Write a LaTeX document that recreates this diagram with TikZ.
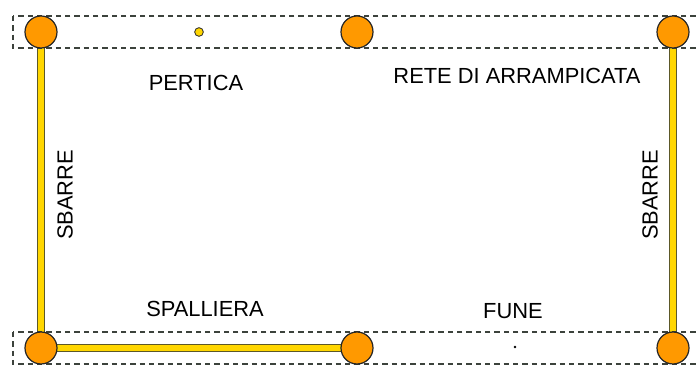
\documentclass[tikz,border=0pt]{standalone}
\usepackage{fontspec}
\setmainfont{Liberation Sans}
\usetikzlibrary{backgrounds}

\definecolor{pallone}{RGB}{255,153,0}
\definecolor{giallo}{RGB}{255,214,0}
\definecolor{bordobarra}{RGB}{92,88,40}
\definecolor{tratteggio}{RGB}{60,66,60}

\tikzset{every picture/.style={line width=0.75pt}}
\tikzset{
  attacco/.style={circle,draw=black!85,fill=pallone,line width=0.9pt,minimum size=24pt,inner sep=0pt},
  barra/.style={draw=bordobarra,line width=5.4pt,
    postaction={draw=giallo,line width=3.9pt}},
  zona/.style={draw=tratteggio,dash pattern=on 4pt off 3pt,line width=0.9pt},
  scritta/.style={inner sep=0.75pt,font=\fontsize{16.4}{19}\selectfont}
}

\begin{document}
\begin{tikzpicture}[x=0.75pt,y=0.75pt,yscale=-1,xscale=1]
\useasboundingbox (0,0) rectangle (697,366);

%Shape: Rectangle (zona alta)
\draw [zona] (13,16) rectangle (705,48) ;
%Shape: Rectangle (zona bassa)
\draw [zona] (13,332) rectangle (705,364) ;

%Attacchi
\node [attacco] (altoSx) at (41,32) {};
\node [attacco] (altoCentro) at (357,32) {};
\node [attacco] (altoDx) at (673,32) {};
\node [attacco] (bassoSx) at (41,348) {};
\node [attacco] (bassoCentro) at (357,348) {};
\node [attacco] (bassoDx) at (673,348) {};

%Barre
\begin{pgfonlayer}{background}
\draw [barra] (altoSx.center) -- (bassoSx.center) ;
\draw [barra] (bassoSx.center) -- (bassoCentro.center) ;
\draw [barra] (altoDx.center) -- (bassoDx.center) ;
\end{pgfonlayer}

%Punti
\node [circle,draw=black!85,fill=giallo,line width=0.6pt,minimum size=6.5pt,inner sep=0pt] (pertica) at (199,32) {};
\node [circle,fill=black,minimum size=2pt,inner sep=0pt] (fune) at (515,347) {};

% Text Node
\node [scritta] (tPertica) at (196,83) {PERTICA};
\node [scritta] (tRete) at (517,76) {RETE DI ARRAMPICATA};
\node [scritta] (tSpalliera) at (205,309) {SPALLIERA};
\node [scritta] (tFune) at (513,311) {FUNE};
\node [scritta,rotate=90] (tSbarreSx) at (65,195) {SBARRE};
\node [scritta,rotate=90] (tSbarreDx) at (650,195) {SBARRE};

\end{tikzpicture}
\end{document}
